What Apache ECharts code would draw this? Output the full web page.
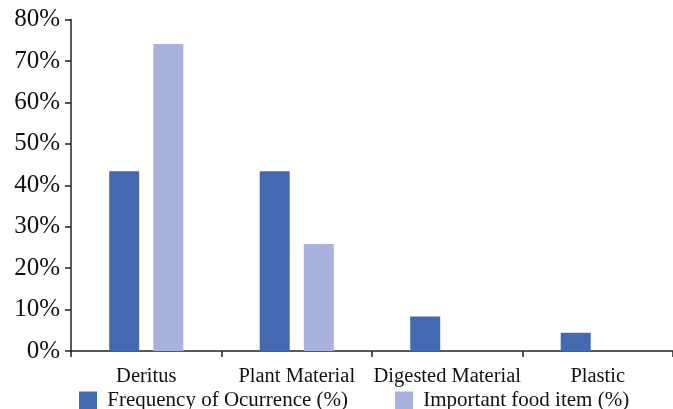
<!DOCTYPE html>
<html>
<head>
<meta charset="utf-8">
<script src="https://cdn.jsdelivr.net/npm/echarts@6/dist/echarts.min.js"></script>
<style>html,body{margin:0;padding:0;background:#fff;}#c{width:673px;height:409px;}</style>
</head>
<body>
<div id="c"></div>
<script>
const categories = ['Deritus', 'Plant Material', 'Digested Material', 'Plastic'];
const frequency = [43.4, 43.4, 8.3, 4.4];
const important = [74.1, 25.8, 0, 0];
const seriesNames = ['Frequency of Ocurrence (%)', 'Important food item (%)'];
const yTicks = { min: 0, max: 80, interval: 10 };

const chart = echarts.init(document.getElementById('c'), null, { renderer: 'canvas' });
const font = '"Liberation Serif", "Times New Roman", serif';
chart.setOption({
  animation: false,
  textStyle: { fontFamily: font },
  grid: { left: 71, top: 19.5, width: 603, bottom: 58, containLabel: false },
  legend: {
    data: seriesNames,
    left: 79, top: 390,
    itemWidth: 18, itemHeight: 18, itemGap: 47,
    icon: 'rect',
    formatter: ' {name}',
    textStyle: { fontFamily: font, fontSize: 21, color: '#111' },
    padding: 0
  },
  xAxis: {
    type: 'category',
    data: categories,
    boundaryGap: true,
    axisLine: { lineStyle: { color: '#222', width: 1.5 } },
    axisTick: { show: true, length: 6, interval: 0, lineStyle: { color: '#222', width: 1.5 } },
    axisLabel: { fontFamily: font, fontSize: 20.5, color: '#111', margin: 15, interval: 0 },
    splitLine: { show: false }
  },
  yAxis: {
    type: 'value',
    min: yTicks.min, max: yTicks.max, interval: yTicks.interval,
    axisLine: { show: true, lineStyle: { color: '#222', width: 1.5 } },
    axisTick: { show: true, length: 6, lineStyle: { color: '#222', width: 1.5 } },
    axisLabel: { fontFamily: font, fontSize: 25, color: '#111', margin: 11, formatter: '{value}%' },
    splitLine: { show: false }
  },
  series: [
    { name: seriesNames[0], type: 'bar', data: frequency, barWidth: 30, barGap: '47%', itemStyle: { color: '#4469B0' } },
    { name: seriesNames[1], type: 'bar', data: important, barWidth: 30, barGap: '47%', itemStyle: { color: '#A8B1DB' } }
  ]
});
</script>
</body>
</html>
